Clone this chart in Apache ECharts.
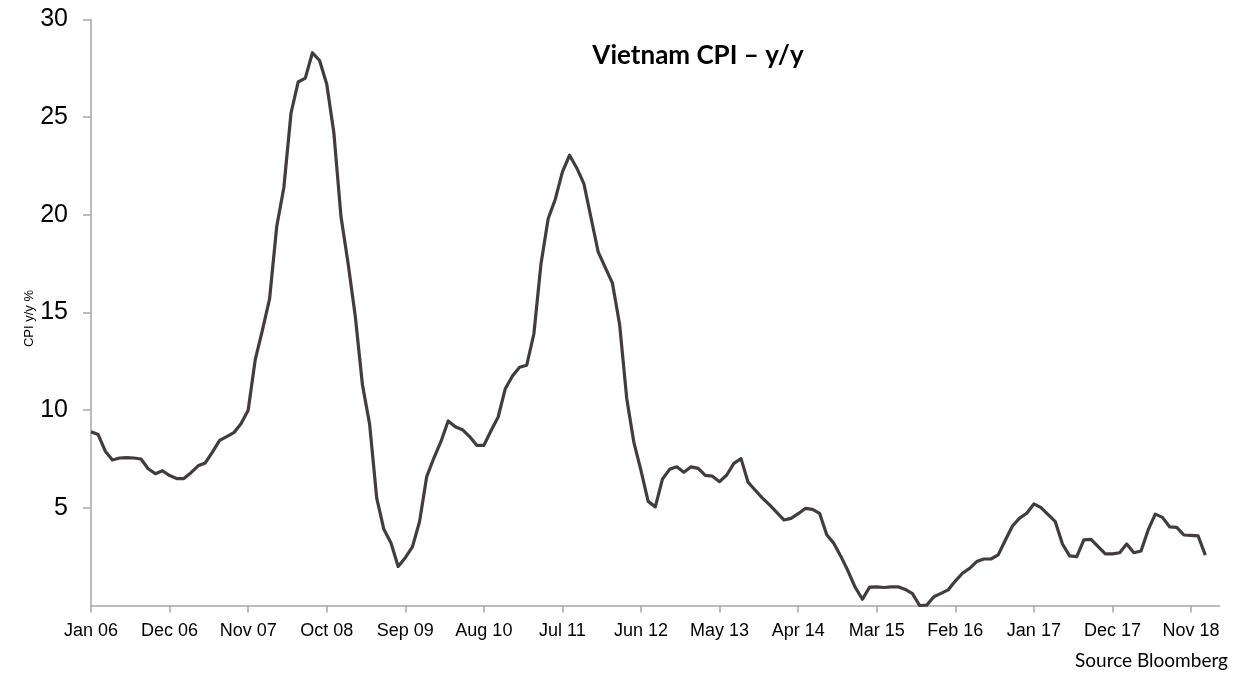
<!DOCTYPE html>
<html>
<head>
<meta charset="utf-8">
<title>Vietnam CPI y/y</title>
<script src="https://cdn.jsdelivr.net/npm/echarts@6/dist/echarts.min.js"></script>
<style>
  html, body { margin: 0; padding: 0; background: #fff; }
  #chart { width: 1239px; height: 675px; }
</style>
</head>
<body>
<div id="chart"></div>
<script>
// month labels, Jan 06 .. Mar 19 (axis runs a little past the last point)
const monthNames = ['Jan', 'Feb', 'Mar', 'Apr', 'May', 'Jun', 'Jul', 'Aug', 'Sep', 'Oct', 'Nov', 'Dec']
const years = ['06', '07', '08', '09', '10', '11', '12', '13', '14', '15', '16', '17', '18', '19']
const lastMonthOf19 = 3

// CPI y/y %, monthly from Jan 06 to Jan 19
const cpi2006 = [8.9, 8.75, 7.9, 7.45, 7.55, 7.57, 7.55, 7.5, 7.0, 6.75, 6.9, 6.65]
const cpi2007 = [6.5, 6.5, 6.8, 7.15, 7.3, 7.85, 8.45, 8.65, 8.85, 9.3, 10.0, 12.6]
const cpi2008 = [14.1, 15.7, 19.4, 21.4, 25.2, 26.8, 27.0, 28.3, 27.9, 26.7, 24.2, 19.9]
const cpi2009 = [17.5, 14.8, 11.3, 9.3, 5.5, 3.9, 3.2, 2.0, 2.45, 3.0, 4.3, 6.6]
const cpi2010 = [7.55, 8.4, 9.45, 9.15, 9.0, 8.65, 8.2, 8.2, 8.95, 9.65, 11.1, 11.75]
const cpi2011 = [12.2, 12.3, 13.9, 17.5, 19.8, 20.8, 22.2, 23.05, 22.4, 21.6, 19.85, 18.1]
const cpi2012 = [17.3, 16.5, 14.4, 10.6, 8.35, 6.9, 5.33, 5.05, 6.47, 6.97, 7.1, 6.82]
const cpi2013 = [7.1, 7.02, 6.66, 6.62, 6.34, 6.68, 7.28, 7.52, 6.3, 5.9, 5.5, 5.15]
const cpi2014 = [4.77, 4.38, 4.46, 4.7, 4.97, 4.92, 4.72, 3.62, 3.18, 2.5, 1.75, 0.92]
const cpi2015 = [0.32, 0.94, 0.95, 0.92, 0.95, 0.96, 0.82, 0.61, 0.0, 0.02, 0.45, 0.62]
const cpi2016 = [0.8, 1.25, 1.65, 1.9, 2.25, 2.38, 2.38, 2.59, 3.34, 4.07, 4.47, 4.72]
const cpi2017 = [5.2, 5.01, 4.65, 4.29, 3.15, 2.54, 2.5, 3.36, 3.39, 3.01, 2.64, 2.64]
const cpi2018 = [2.7, 3.15, 2.7, 2.79, 3.87, 4.68, 4.51, 4.03, 4.0, 3.61, 3.59, 3.56]
const cpi2019 = [2.58]

const yTicks = { min: 0, max: 30, step: 5 }

const categories = []
years.forEach((y, k) => {
  const n = k === years.length - 1 ? lastMonthOf19 : 12
  for (let m = 0; m < n; m++) categories.push(monthNames[m] + ' ' + y)
})

const values = [].concat(cpi2006, cpi2007, cpi2008, cpi2009, cpi2010, cpi2011,
  cpi2012, cpi2013, cpi2014, cpi2015, cpi2016, cpi2017, cpi2018, cpi2019)

const chart = echarts.init(document.getElementById('chart'))

chart.setOption({
  animation: false,
  backgroundColor: '#fff',
  title: {
    text: 'Vietnam CPI \u2013 y/y',
    left: 693,
    top: 38,
    textAlign: 'center',
    textStyle: {
      fontFamily: 'Lato',
      fontWeight: 'bold',
      fontSize: 26,
      color: '#000'
    }
  },
  graphic: [
    {
      type: 'text',
      left: 23,
      top: 290,
      rotation: Math.PI / 2,
      style: {
        text: 'CPI y/y %',
        fontFamily: 'Liberation Sans',
        fontSize: 13,
        fill: '#000'
      }
    },
    {
      type: 'text',
      right: 11,
      top: 651,
      style: {
        text: 'Source Bloomberg',
        fontFamily: 'Lato',
        fontSize: 19,
        fill: '#000'
      }
    }
  ],
  grid: {
    left: 91,
    right: 19.4,
    top: 19.5,
    bottom: 69.5,
    containLabel: false
  },
  xAxis: {
    type: 'category',
    data: categories,
    boundaryGap: false,
    axisLine: { lineStyle: { color: '#a6a6a6', width: 1.5 } },
    axisTick: { interval: 10, length: 7, lineStyle: { color: '#a6a6a6', width: 1.5 } },
    axisLabel: {
      interval: 10,
      margin: 17,
      fontFamily: 'Liberation Sans',
      fontSize: 18,
      color: '#000'
    },
    splitLine: { show: false }
  },
  yAxis: {
    type: 'value',
    min: yTicks.min,
    max: yTicks.max,
    interval: yTicks.step,
    axisLine: { show: true, lineStyle: { color: '#a6a6a6', width: 1.5 } },
    axisTick: { show: true, length: 8, lineStyle: { color: '#a6a6a6', width: 1.5 } },
    axisLabel: {
      showMinLabel: false,
      margin: 23,
      fontFamily: 'Liberation Sans',
      fontSize: 25,
      color: '#000'
    },
    splitLine: { show: false }
  },
  series: [
    {
      type: 'line',
      data: values,
      showSymbol: false,
      symbol: 'none',
      lineStyle: { color: '#433b3e', width: 3.2, join: 'round' },
      clip: false
    }
  ]
})
</script>
</body>
</html>
